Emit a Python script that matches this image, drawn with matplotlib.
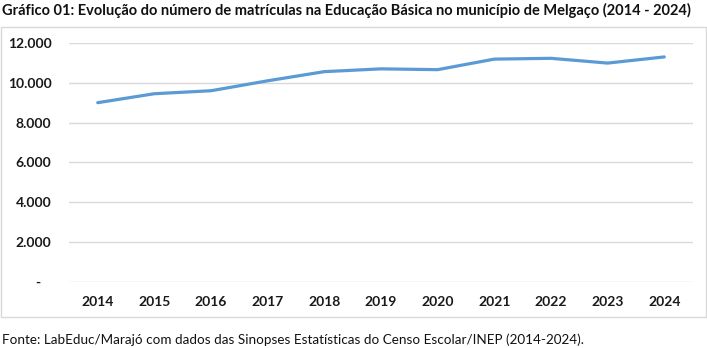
import matplotlib

matplotlib.use("Agg")
import matplotlib.pyplot as plt
from matplotlib.patches import Rectangle
from matplotlib.ticker import FixedLocator, FuncFormatter


years = ["2014", "2015", "2016", "2017", "2018", "2019", "2020", "2021", "2022", "2023", "2024"]
matriculas = [9000, 9450, 9600, 10100, 10560, 10700, 10660, 11190, 11230, 10990, 11300]
y_ticks = [0, 2000, 4000, 6000, 8000, 10000, 12000]

title = "Gráfico 01: Evolução do número de matrículas na Educação Básica no município de Melgaço (2014 - 2024)"
source = "Fonte: LabEduc/Marajó com dados das Sinopses Estatísticas do Censo Escolar/INEP (2014-2024)."

plt.rcParams["font.family"] = ["Lato", "DejaVu Sans"]


def thousands(value, _pos):
    if value == 0:
        return "-   "
    return f"{value:,.0f}".replace(",", ".")


W, H = 707, 348
fig = plt.figure(figsize=(W / 100, H / 100), dpi=100)
fig.patch.set_facecolor("white")

# chart frame
fig.patches.append(
    Rectangle((0.5 / W, 1 - 317.3 / H), 705 / W, 290.3 / H,
              transform=fig.transFigure, fill=False,
              edgecolor="#d9d9d9", linewidth=1.0)
)

ax = fig.add_axes([69.4 / W, 1 - 281.7 / H, 623.2 / W, 238.7 / H])
x = range(len(years))
ax.plot(x, matriculas, color="#5b9bd5", linewidth=2.3, solid_capstyle="round",
        solid_joinstyle="round", zorder=3)

ax.set_xlim(-0.5, len(years) - 0.5)
ax.set_ylim(0, 12000)
ax.set_xticks(list(x), years)
ax.yaxis.set_major_locator(FixedLocator(y_ticks))
ax.yaxis.set_major_formatter(FuncFormatter(thousands))
ax.grid(axis="y", color="#d9d9d9", linewidth=1.0)
ax.set_axisbelow(True)
for spine in ax.spines.values():
    spine.set_visible(False)
ax.tick_params(axis="both", length=0, labelsize=10, colors="#1a1a1a")
ax.tick_params(axis="y", pad=13)
ax.tick_params(axis="x", pad=10)
for label in ax.get_xticklabels() + ax.get_yticklabels():
    label.set_fontweight("bold")

fig.text(2 / W, 1 - 10 / H, title, fontsize=10.5, fontweight="bold",
         color="#111111", va="center", ha="left")
fig.text(2 / W, 1 - 339.5 / H, source, fontsize=9.7, color="#111111",
         va="center", ha="left")

fig.savefig("out.png", dpi=100)
plt.close(fig)
